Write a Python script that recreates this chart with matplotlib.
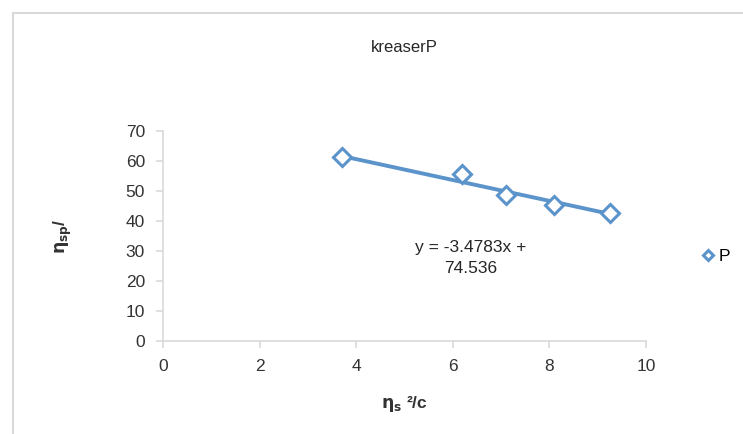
import numpy as np
import matplotlib.pyplot as plt
from matplotlib.patches import Rectangle

plt.rcParams['font.family'] = ['Liberation Sans', 'DejaVu Sans']

# data
x_vals = [3.7, 6.2, 7.1, 8.1, 9.25]
y_vals = [61.2, 55.7, 48.7, 45.2, 42.8]
slope = -3.4783
intercept = 74.536
x_ticks = [0, 2, 4, 6, 8, 10]
y_ticks = [0, 10, 20, 30, 40, 50, 60, 70]

blue = '#5b93cb'
grey_axis = '#d9d9d9'
tick_col = '#333333'

fig = plt.figure(figsize=(7.43, 4.34), dpi=100)
fig.patches.append(Rectangle((13 / 743, -0.1), 1.2, 1 - 13 / 434 + 0.1,
                             transform=fig.transFigure, fill=False,
                             edgecolor=grey_axis, linewidth=1.5))

ax = fig.add_axes([163 / 743, 1 - 341 / 434, (646 - 163) / 743, (341 - 131) / 434])

# trendline over the data range
xs = np.array([min(x_vals), max(x_vals)])
ax.plot(xs, slope * xs + intercept, color=blue, linewidth=2.8, zorder=2)
ax.plot(x_vals, y_vals, linestyle='', marker='D', markersize=9,
        markerfacecolor='white', markeredgecolor=blue, markeredgewidth=2.2,
        zorder=3, label='P')

ax.set_xlim(0, 10)
ax.set_ylim(0, 70)
ax.set_xticks(x_ticks)
ax.set_yticks(y_ticks)
for s in ['top', 'right']:
    ax.spines[s].set_visible(False)
for s in ['left', 'bottom']:
    ax.spines[s].set_color(grey_axis)
    ax.spines[s].set_linewidth(1.2)
ax.tick_params(colors=grey_axis, labelcolor=tick_col, labelsize=12.5, length=5, width=1.2)
ax.tick_params(axis='y', pad=8)
ax.tick_params(axis='x', pad=8)

ax.set_title('kreaserP', fontsize=12, color='#262626', pad=57)
ax.set_xlabel(r'$\mathbf{\eta_s}$ ²/c', fontsize=12.5, fontweight='bold', color=tick_col, labelpad=14)
ax.set_ylabel(r'$\mathbf{\eta_{sp}}$/', fontsize=12.5, fontweight='bold', color=tick_col, labelpad=37)

ax.text(471 / 743, 1 - 258 / 434, 'y = -3.4783x +\n74.536', transform=fig.transFigure,
        ha='center', va='center', fontsize=12.5, color='#262626', linespacing=1.45)

fig.legend(loc='center left', bbox_to_anchor=(682 / 743, 1 - 256 / 434), frameon=False,
           fontsize=12.5, handletextpad=0.0, markerscale=0.55, handlelength=1.2)

fig.savefig('out.png', dpi=100)
